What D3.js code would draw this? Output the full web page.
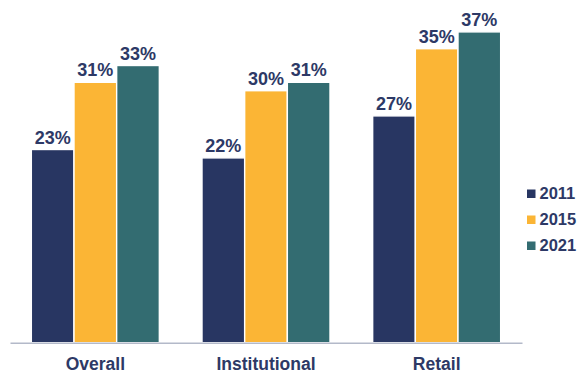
<!DOCTYPE html>
<html>
<head>
<meta charset="utf-8">
<script src="https://cdn.jsdelivr.net/npm/d3@7"></script>
<style>
  html, body { margin: 0; padding: 0; background: #ffffff; }
  svg { display: block; font-family: "Liberation Sans", Arial, sans-serif; }
</style>
</head>
<body>
<svg id="chart" width="583" height="374"></svg>
<script>
// Share by segment across survey years
const categories = ["Overall", "Institutional", "Retail"];
const years = ["2011", "2015", "2021"];
const values2011 = [23, 22, 27];
const values2015 = [31, 30, 35];
const values2021 = [33, 31, 37];
const seriesValues = [values2011, values2015, values2021];
const colors = ["#283662", "#fbb535", "#336c71"];

const svg = d3.select("#chart");
const baseline = 342.7;

const x0 = d3.scaleBand().domain(categories).range([10, 522]).paddingInner(0.25).paddingOuter(0.125);
const x1 = d3.scaleBand().domain(years).range([0, x0.bandwidth()]);
const y = d3.scaleLinear().domain([0, 40]).range([baseline, 6.7]);

const rows = categories.map((c, i) => ({
  category: c,
  bars: years.map((yr, j) => ({ year: yr, value: seriesValues[j][i], color: colors[j] }))
}));

const groups = svg.selectAll("g.group").data(rows).enter().append("g")
  .attr("class", "group")
  .attr("transform", d => `translate(${x0(d.category)},0)`);

groups.selectAll("rect").data(d => d.bars).enter().append("rect")
  .attr("x", d => x1(d.year))
  .attr("y", d => y(d.value))
  .attr("width", x1.bandwidth())
  .attr("height", d => baseline - y(d.value))
  .attr("fill", d => d.color)
  .attr("stroke", "#ffffff")
  .attr("stroke-width", 1.4);

groups.selectAll("text.value").data(d => d.bars).enter().append("text")
  .attr("class", "value")
  .attr("x", d => x1(d.year) + x1.bandwidth() / 2)
  .attr("y", d => y(d.value) - 6)
  .attr("text-anchor", "middle")
  .attr("font-size", 18)
  .attr("font-weight", "bold")
  .attr("fill", "#2d3966")
  .text(d => d.value + "%");

// Category axis
const xAxis = svg.append("g").attr("transform", `translate(0,${baseline})`)
  .call(d3.axisBottom(x0).tickSize(0).tickSizeOuter(0).tickPadding(15));
xAxis.select(".domain").attr("stroke", "#b3b9c9").attr("stroke-width", 1.5);
xAxis.selectAll("text")
  .attr("font-size", 17.5)
  .attr("font-weight", "bold")
  .attr("fill", "#2d3966")
  .attr("font-family", "Liberation Sans, Arial, sans-serif");

// Legend
const legend = svg.append("g").attr("transform", "translate(527,187)");
const items = legend.selectAll("g").data(years).enter().append("g")
  .attr("transform", (d, i) => `translate(0,${i * 26})`);
items.append("rect")
  .attr("x", 0).attr("y", 2.5)
  .attr("width", 8.5).attr("height", 8.5)
  .attr("fill", (d, i) => colors[i]);
items.append("text")
  .attr("x", 12.5).attr("y", 11.7)
  .attr("font-size", 16.5)
  .attr("font-weight", "bold")
  .attr("fill", "#2d3966")
  .text(d => d);
</script>
</body>
</html>
